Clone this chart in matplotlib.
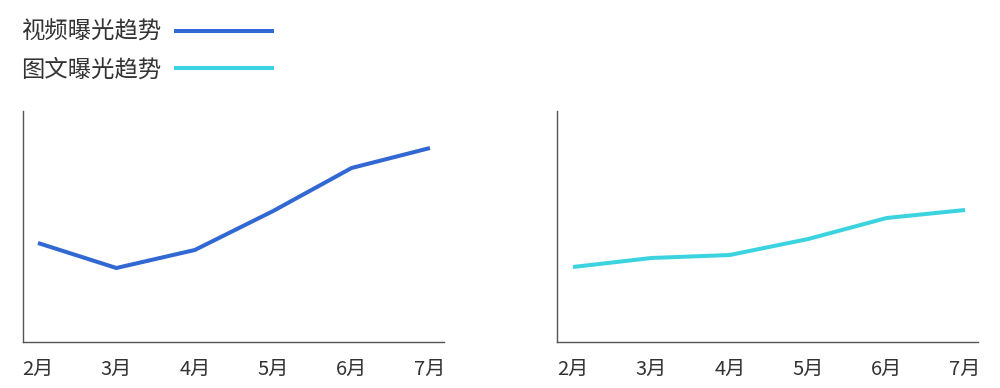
import matplotlib
matplotlib.use("Agg")
import matplotlib.pyplot as plt

plt.rcParams['font.family'] = ['Noto Sans CJK SC', 'DejaVu Sans']

months = ['2月', '3月', '4月', '5月', '6月', '7月']
video_trend = [99, 74, 92, 131, 174, 194]
article_trend = [75, 84, 87, 103, 124, 132]

video_color = '#3268d2'
article_color = '#3cd3e0'
text_color = '#333333'
spine_color = '#555555'

fig = plt.figure(figsize=(10, 3.88), dpi=100)
ax1 = fig.add_axes([0.023, 46 / 388, 0.421, 231 / 388])
ax2 = fig.add_axes([0.557, 46 / 388, 0.421, 231 / 388])

x = range(len(months))
l1, = ax1.plot(x, video_trend, color=video_color, lw=2.9, solid_capstyle='butt')
l2, = ax2.plot(x, article_trend, color=article_color, lw=2.9, solid_capstyle='butt')

ax1.set_xlim(-0.191, 5.179)
ax2.set_xlim(-0.204, 5.166)

for ax in (ax1, ax2):
    ax.set_ylim(0, 231)
    ax.set_xticks(list(x))
    ax.set_xticklabels(months, fontsize=14.5, color=text_color)
    ax.set_yticks([])
    ax.tick_params(axis='x', length=0, pad=12)
    for side in ('top', 'right'):
        ax.spines[side].set_visible(False)
    for side in ('left', 'bottom'):
        ax.spines[side].set_color(spine_color)
        ax.spines[side].set_linewidth(1.0)

leg = fig.legend([l1, l2], ['视频曝光趋势', '图文曝光趋势'],
                 loc='upper left', bbox_to_anchor=(0.0, 1.0),
                 markerfirst=False, frameon=False, fontsize=16.8,
                 handlelength=4.3, handletextpad=0.55, labelspacing=0.62)
for t in leg.get_texts():
    t.set_color(text_color)

fig.savefig('out.png', dpi=100)
